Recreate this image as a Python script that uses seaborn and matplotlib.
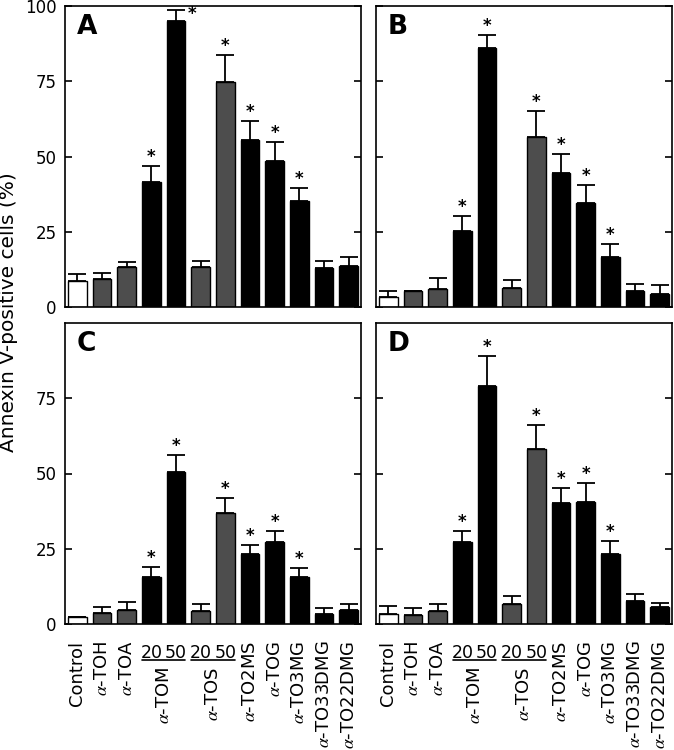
import matplotlib
matplotlib.use("Agg")
import matplotlib.pyplot as plt
import matplotlib.transforms as mtransforms
import seaborn as sns
import pandas as pd
import numpy as np

# treatments in plotting order (20 / 50 = concentration for TOM and TOS)
treatments = ["Control", "α-TOH", "α-TOA", "α-TOM 20", "α-TOM 50",
              "α-TOS 20", "α-TOS 50", "α-TO2MS", "α-TOG", "α-TO3MG",
              "α-TO33DMG", "α-TO22DMG"]
significant = [False, False, False, True, True, False, True, True, True, True, False, False]

# mean % annexin V-positive cells and upper SD
mean_A = [8.7, 9.2, 13.2, 41.6, 95.0, 13.4, 74.9, 55.5, 48.6, 35.2, 12.9, 13.6]
err_A = [2.3, 2.2, 1.8, 5.3, 3.7, 2.0, 8.8, 6.4, 6.3, 4.4, 2.5, 3.0]
mean_B = [3.2, 5.3, 6.1, 25.3, 85.9, 6.3, 56.6, 44.6, 34.7, 16.5, 5.4, 4.4]
err_B = [2.2, 0.0, 3.4, 5.0, 4.5, 2.8, 8.4, 6.3, 5.8, 4.5, 2.3, 2.8]
mean_C = [2.3, 3.5, 4.5, 15.6, 50.4, 4.2, 36.9, 23.2, 27.2, 15.6, 3.2, 4.8]
err_C = [0.0, 2.3, 2.8, 3.4, 5.6, 2.3, 5.1, 2.9, 3.7, 3.1, 2.1, 2.0]
mean_D = [3.4, 3.0, 4.4, 27.2, 79.2, 6.7, 58.3, 40.2, 40.6, 23.3, 7.6, 5.8]
err_D = [2.5, 2.3, 2.4, 3.7, 9.9, 2.5, 7.7, 5.0, 6.3, 4.3, 2.4, 1.2]

# axis labels under the bottom panels
single_labels = {0: "Control", 1: r"$\alpha$-TOH", 2: r"$\alpha$-TOA",
                 7: r"$\alpha$-TO2MS", 8: r"$\alpha$-TOG", 9: r"$\alpha$-TO3MG",
                 10: r"$\alpha$-TO33DMG", 11: r"$\alpha$-TO22DMG"}
group_labels = {3: r"$\alpha$-TOM", 5: r"$\alpha$-TOS"}
dose_labels = ["20", "50"]

sns.set_style("white")
plt.rcParams["font.family"] = ["DejaVu Sans"]
plt.rcParams["mathtext.fontset"] = "stix"
for k in ["text.color", "axes.labelcolor", "xtick.color", "ytick.color", "axes.edgecolor"]:
    plt.rcParams[k] = "black"

GRAY = "#4d4d4d"
palette = {t: "black" for t in treatments}
palette["Control"] = "white"
for t in ["α-TOH", "α-TOA", "α-TOS 20", "α-TOS 50"]:
    palette[t] = GRAY

panels = {"A": (mean_A, err_A), "B": (mean_B, err_B),
          "C": (mean_C, err_C), "D": (mean_D, err_D)}

W, H = 674, 750
fig = plt.figure(figsize=(W / 100, H / 100), dpi=100)
boxes = {"A": (65, 6), "B": (376, 6), "C": (65, 323), "D": (376, 323)}
pw, ph = 296, 301

for name, (mean, err) in panels.items():
    x0, y0 = boxes[name]
    ax = fig.add_axes([x0 / W, 1 - (y0 + ph) / H, pw / W, ph / H])
    df = pd.DataFrame({"treatment": treatments, "value": mean})
    sns.barplot(data=df, x="treatment", y="value", hue="treatment",
                order=treatments, hue_order=treatments, palette=palette,
                legend=False, width=0.75, edgecolor="black", linewidth=1.0,
                errorbar=None, ax=ax)
    xs = np.arange(len(treatments))
    m = np.array(mean)
    e = np.array(err)
    ax.errorbar(xs, m, yerr=[np.zeros_like(e), e], fmt="none", ecolor="black",
                elinewidth=1.3, capsize=6.5, capthick=1.3)
    for i, sig in enumerate(significant):
        if not sig:
            continue
        top = m[i] + e[i]
        if top + 4 > 99:
            ax.text(i + 0.65, top - 1.5, "*", ha="center", va="center",
                    fontsize=12, fontweight="bold")
        else:
            ax.text(i, top + 3.0, "*", ha="center", va="center",
                    fontsize=12, fontweight="bold")

    ax.set_xlim(-0.5, len(treatments) - 0.5)
    ax.set_ylim(0, 100)
    ax.set_xlabel("")
    ax.set_ylabel("")
    if name in ("A", "B"):
        ax.set_yticks([0, 25, 50, 75, 100])
    else:
        ax.set_yticks([0, 25, 50, 75])
    ax.tick_params(axis="x", bottom=False, labelbottom=False)
    ax.tick_params(axis="y", direction="in", left=True, right=True, length=5,
                   width=1.2, labelsize=12, pad=6, labelleft=name in ("A", "C"))
    for sp in ax.spines.values():
        sp.set_color("black")
        sp.set_linewidth(1.2)
    ax.text(0.04, 0.975, name, transform=ax.transAxes, ha="left", va="top",
            fontsize=19, fontweight="bold")

    if name in ("C", "D"):
        tr = mtransforms.blended_transform_factory(ax.transData, ax.transAxes)
        for i, lab in single_labels.items():
            ax.text(i, -0.055, lab, rotation=90, ha="center", va="top",
                    fontsize=13, transform=tr, clip_on=False)
        for i, lab in group_labels.items():
            for k, d in enumerate(dose_labels):
                ax.text(i + k, -0.065, d, ha="center", va="top", fontsize=12.5,
                        transform=tr, clip_on=False)
            ax.plot([i - 0.38, i + 1.38], [-0.118, -0.118], color="black",
                    lw=1.2, transform=tr, clip_on=False)
            ax.text(i + 0.5, -0.142, lab, rotation=90, ha="center", va="top",
                    fontsize=13, transform=tr, clip_on=False)

fig.text(9 / W, 1 - 312 / H, "Annexin V-positive cells (%)", rotation=90,
         ha="center", va="center", fontsize=14.5)

fig.savefig("out.png", dpi=100)
